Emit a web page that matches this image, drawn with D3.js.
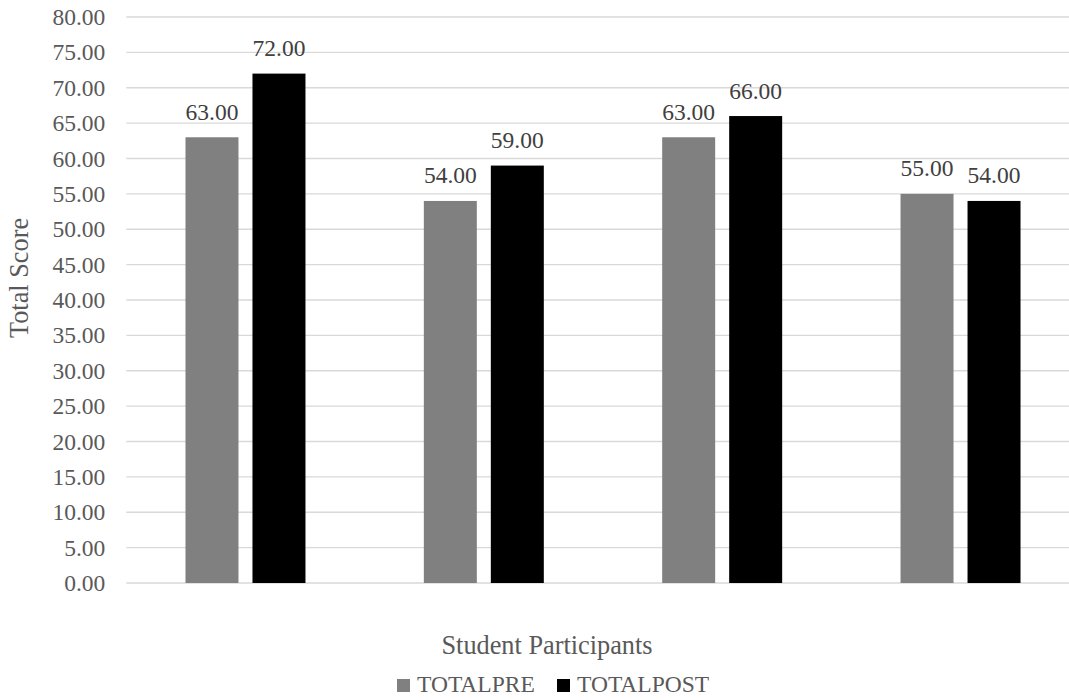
<!DOCTYPE html>
<html>
<head>
<meta charset="utf-8">
<script src="https://cdn.jsdelivr.net/npm/d3@7"></script>
</head>
<body style="margin:0;padding:0;background:#fff">
<svg id="chart" width="1069" height="700" style="display:block"></svg>
<script>
// Participants (category axis labels are not displayed)
const participants = ["P1", "P2", "P3", "P4"];
const seriesNames = ["TOTALPRE", "TOTALPOST"];
const totalPre = [63, 54, 63, 55];
const totalPost = [72, 59, 66, 54];
const seriesColors = ["#808080", "#000000"];
const yTicks = [0, 5, 10, 15, 20, 25, 30, 35, 40, 45, 50, 55, 60, 65, 70, 75, 80];

const FONT = '"Liberation Serif"';
const LABEL_SIZE = 23.5;
const TITLE_SIZE = 26.3;

const values = [totalPre, totalPost];
const rows = participants.map((p, i) => ({
  name: p,
  vals: seriesNames.map((s, j) => ({ series: s, value: values[j][i], color: seriesColors[j] }))
}));

const svg = d3.select("#chart");
const plot = { left: 126.3, right: 1079.7, top: 17, bottom: 583 };

const y = d3.scaleLinear().domain([0, 80]).range([plot.bottom, plot.top]);
const x0 = d3.scaleBand().domain(participants).range([plot.left, plot.right]).padding(0);
const bw = x0.bandwidth();
const x1 = d3.scaleBand().domain(seriesNames)
  .range([bw * 0.2483, bw * 0.7517]).paddingInner(0.209).paddingOuter(0);

// Horizontal gridlines
svg.append("g")
  .selectAll("line")
  .data(yTicks)
  .join("line")
  .attr("x1", plot.left)
  .attr("x2", plot.right)
  .attr("y1", d => y(d))
  .attr("y2", d => y(d))
  .attr("stroke", "#d9d9d9")
  .attr("stroke-width", 1.3);

// Y axis tick labels
const yAxis = d3.axisLeft(y).tickValues(yTicks).tickFormat(d3.format(".2f")).tickSize(0).tickPadding(21);
const gy = svg.append("g").attr("transform", `translate(${plot.left},0)`).call(yAxis);
gy.attr("font-family", null).attr("font-size", null);
gy.select(".domain").remove();
gy.selectAll("text")
  .style("font-family", FONT)
  .attr("font-size", LABEL_SIZE)
  .attr("fill", "#595959");

// Bars
const groups = svg.append("g")
  .selectAll("g")
  .data(rows)
  .join("g")
  .attr("transform", d => `translate(${x0(d.name)},0)`);

groups.selectAll("rect")
  .data(d => d.vals)
  .join("rect")
  .attr("x", d => x1(d.series))
  .attr("width", x1.bandwidth())
  .attr("y", d => y(d.value))
  .attr("height", d => y(0) - y(d.value))
  .attr("fill", d => d.color);

// Value labels
groups.selectAll("text")
  .data(d => d.vals)
  .join("text")
  .attr("x", d => x1(d.series) + x1.bandwidth() / 2)
  .attr("y", d => y(d.value) - 17.5)
  .attr("text-anchor", "middle")
  .style("font-family", FONT)
  .attr("font-size", LABEL_SIZE)
  .attr("fill", "#404040")
  .text(d => d3.format(".2f")(d.value));

// Axis titles
svg.append("text")
  .attr("transform", `translate(28,278) rotate(-90)`)
  .attr("text-anchor", "middle")
  .style("font-family", FONT)
  .attr("font-size", TITLE_SIZE)
  .attr("fill", "#595959")
  .text("Total Score");

svg.append("text")
  .attr("x", 547)
  .attr("y", 654)
  .attr("text-anchor", "middle")
  .style("font-family", FONT)
  .attr("font-size", TITLE_SIZE)
  .attr("fill", "#595959")
  .text("Student Participants");

// Legend
const legendX = [397, 557];
const legend = svg.append("g")
  .selectAll("g")
  .data(seriesNames)
  .join("g")
  .attr("transform", (d, i) => `translate(${legendX[i]},679)`);
legend.append("rect")
  .attr("width", 13).attr("height", 13)
  .attr("fill", (d, i) => seriesColors[i]);
legend.append("text")
  .attr("x", 20).attr("y", 13)
  .style("font-family", FONT)
  .attr("font-size", LABEL_SIZE)
  .attr("fill", "#595959")
  .text(d => d);
</script>
</body>
</html>
